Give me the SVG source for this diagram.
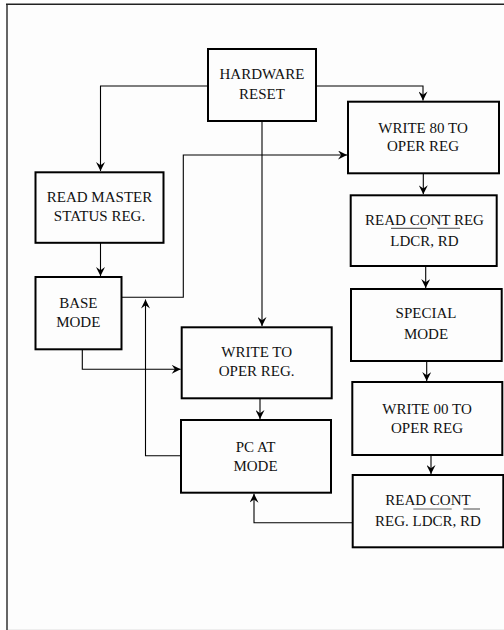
<svg xmlns="http://www.w3.org/2000/svg" width="504" height="630" viewBox="0 0 504 630">
<defs>
<style>
.box{fill:none;stroke:#000;stroke-width:2}
.t{font-family:"Liberation Serif","Times New Roman",serif;font-size:15px;fill:#111;text-anchor:middle}
.c{fill:none;stroke:#000;stroke-width:1.1}
.ol{stroke:#666;stroke-width:1.2}
</style>
<marker id="ah" viewBox="0 0 10 10" refX="10" refY="5" markerWidth="10" markerHeight="9" markerUnits="userSpaceOnUse" orient="auto">
<path d="M0,0 L10,5 L0,10 L3.5,5 Z" fill="#000"/>
</marker>
</defs>
<rect x="0" y="0" width="504" height="630" fill="#fff"/>
<rect x="7" y="4" width="497" height="626" fill="#fdfdfd"/>
<line x1="7" y1="4" x2="7" y2="630" stroke="#666" stroke-width="2"/>
<line x1="6" y1="4.3" x2="504" y2="4.3" stroke="#222" stroke-width="1.5"/>
<line x1="8" y1="629.5" x2="504" y2="629.5" stroke="#eee" stroke-width="1"/>

<g id="connectors">
<path class="c" d="M208,86 H100.5 V171" marker-end="url(#ah)"/>
<path class="c" d="M316,86 H423 V100.5" marker-end="url(#ah)"/>
<path class="c" d="M262,121 V326" marker-end="url(#ah)"/>
<path class="c" d="M100.5,243 V276" marker-end="url(#ah)"/>
<path class="c" d="M121,297.3 H183.3 V155 H347" marker-end="url(#ah)"/>
<path class="c" d="M181,455.7 H145.5 V299.5" marker-end="url(#ah)"/>
<path class="c" d="M82.3,349 V369.3 H180.7" marker-end="url(#ah)"/>
<path class="c" d="M260,399 V419" marker-end="url(#ah)"/>
<path class="c" d="M423.3,173 V194.3" marker-end="url(#ah)"/>
<path class="c" d="M425.7,266 V288" marker-end="url(#ah)"/>
<path class="c" d="M426.7,361 V381" marker-end="url(#ah)"/>
<path class="c" d="M431,455 V474" marker-end="url(#ah)"/>
<path class="c" d="M352.7,522.7 H254 V493.7" marker-end="url(#ah)"/>
</g>

<g id="hardware-reset">
<rect class="box" x="208" y="49" width="108" height="72"/>
<text class="t" x="262" y="79">HARDWARE</text>
<text class="t" x="262" y="99">RESET</text>
</g>
<g id="read-master">
<rect class="box" x="35.5" y="172.3" width="128" height="70.5"/>
<text class="t" x="99.5" y="201.7">READ MASTER</text>
<text class="t" x="99.5" y="221">STATUS REG.</text>
</g>
<g id="base-mode">
<rect class="box" x="35.5" y="277" width="86" height="72.3"/>
<text class="t" x="78.3" y="307.7">BASE</text>
<text class="t" x="78.3" y="326.7">MODE</text>
</g>
<g id="write-to-oper">
<rect class="box" x="181.7" y="327.3" width="150" height="71"/>
<text class="t" x="256.7" y="356.7">WRITE TO</text>
<text class="t" x="256.7" y="376">OPER REG.</text>
</g>
<g id="pc-at-mode">
<rect class="box" x="181" y="420" width="150" height="72.7"/>
<text class="t" x="255.5" y="451.7">PC AT</text>
<text class="t" x="255.5" y="470.7">MODE</text>
</g>
<g id="write-80">
<rect class="box" x="348" y="101.7" width="151" height="71.6"/>
<text class="t" x="423" y="132.7">WRITE 80 TO</text>
<text class="t" x="423" y="150.7">OPER REG</text>
</g>
<g id="read-cont-1">
<rect class="box" x="350.7" y="195.3" width="146" height="70.7"/>
<text class="t" x="424.5" y="225">READ CONT REG</text>
<text class="t" x="424.5" y="245.7">LDCR, RD</text>
<line class="ol" x1="391" y1="228.3" x2="427" y2="228.3"/>
<line class="ol" x1="437.3" y1="228.3" x2="460" y2="228.3"/>
</g>
<g id="special-mode">
<rect class="box" x="351" y="289" width="150.7" height="72"/>
<text class="t" x="426" y="318">SPECIAL</text>
<text class="t" x="426" y="339">MODE</text>
</g>
<g id="write-00">
<rect class="box" x="352.3" y="382" width="150" height="73"/>
<text class="t" x="427" y="414">WRITE 00 TO</text>
<text class="t" x="427" y="433.3">OPER REG</text>
</g>
<g id="read-cont-2">
<rect class="box" x="352.7" y="475" width="150.6" height="72.3"/>
<text class="t" x="428" y="505">READ CONT</text>
<text class="t" x="428" y="525.7">REG. LDCR, RD</text>
<line class="ol" x1="413.3" y1="509" x2="451.7" y2="509"/>
<line class="ol" x1="463.3" y1="509" x2="480" y2="509"/>
</g>
</svg>
